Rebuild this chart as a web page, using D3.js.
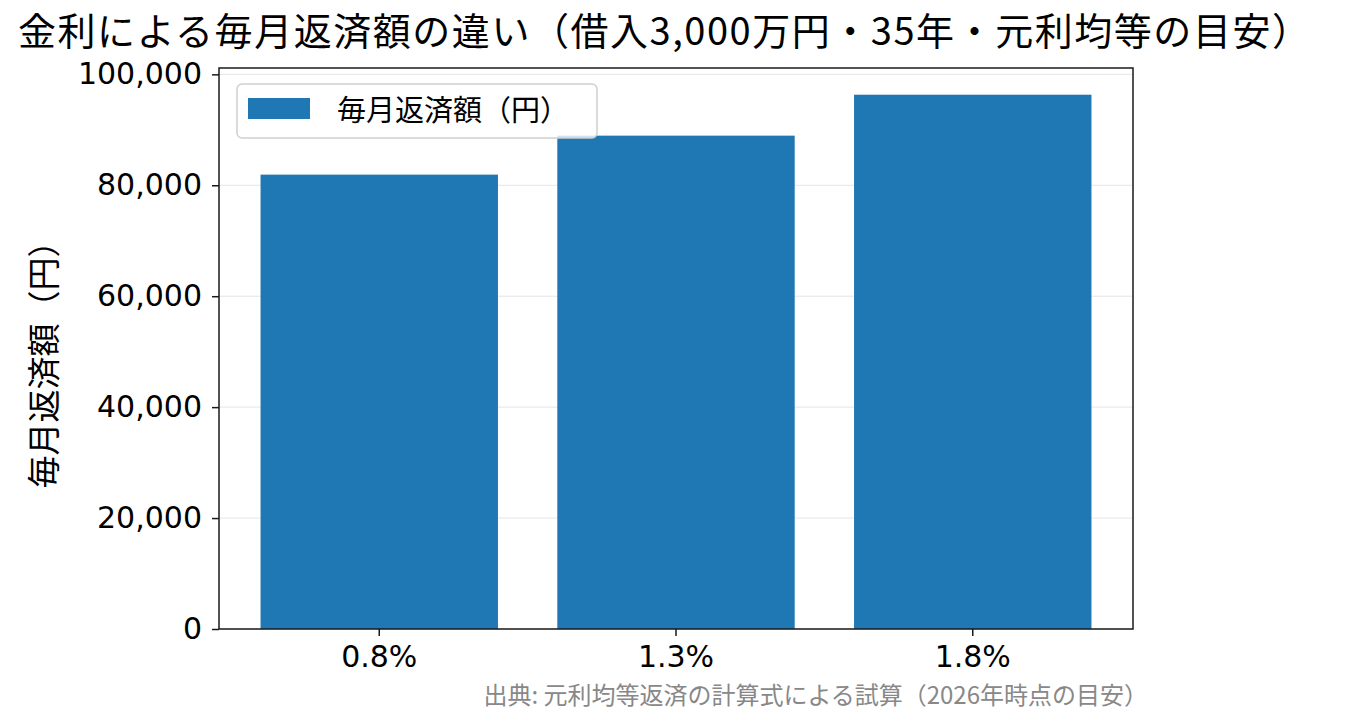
<!DOCTYPE html>
<html>
<head>
<meta charset="utf-8">
<script src="https://cdn.jsdelivr.net/npm/d3@7"></script>
<style>
    body { margin: 0; background: #fff; }
    svg { font-family: "Noto Sans CJK JP", "Noto Sans", sans-serif; }
    .grid line { stroke: #e5e5e5; stroke-width: 1; }
    .axis text { fill: #000; }
    .axis line { stroke: #1a1a1a; stroke-width: 1.5; }
</style>
</head>
<body>
<svg id="chart"></svg>
<script>
// data
const rates = ["0.8%", "1.3%", "1.8%"];
const monthlyPayments = [81918, 88946, 96327];
const yTicks = [0, 20000, 40000, 60000, 80000, 100000];
const seriesName = "毎月返済額（円）";
const titleText = "金利による毎月返済額の違い（借入3,000万円・35年・元利均等の目安）";
const yLabel = "毎月返済額（円）";
const sourceText = "出典: 元利均等返済の計算式による試算（2026年時点の目安）";

class BarChart {

    constructor(_config, _data) {
        this.config = {
            parentElement: _config.parentElement,
            containerWidth: _config.containerWidth || 1353,
            containerHeight: _config.containerHeight || 725,
            margin: _config.margin || {top: 68, right: 220, bottom: 96, left: 219},
            barColor: _config.barColor || "#1f77b4"
        }
        this.data = _data;
        this.initVis();
    }

    initVis() {
        let vis = this;

        vis.width = vis.config.containerWidth - vis.config.margin.left - vis.config.margin.right;
        vis.height = vis.config.containerHeight - vis.config.margin.top - vis.config.margin.bottom;

        // scales (matplotlib style: 0.8 wide bars, 5% margins)
        vis.xScale = d3.scaleBand()
            .range([0, vis.width])
            .paddingInner(0.2)
            .paddingOuter(0.14);

        vis.yScale = d3.scaleLinear()
            .range([vis.height, 0]);

        vis.xAxis = d3.axisBottom(vis.xScale)
            .tickSize(7)
            .tickPadding(10);

        vis.yAxis = d3.axisLeft(vis.yScale)
            .tickValues(yTicks)
            .tickFormat(d3.format(","))
            .tickSize(7)
            .tickPadding(10);

        vis.svg = d3.select(vis.config.parentElement)
            .attr('width', vis.config.containerWidth)
            .attr('height', vis.config.containerHeight);

        vis.chart = vis.svg.append('g')
            .attr('transform', `translate(${vis.config.margin.left},${vis.config.margin.top})`);

        vis.gridG = vis.chart.append('g').attr('class', 'grid');
        vis.barsG = vis.chart.append('g');

        vis.xAxisG = vis.chart.append('g')
            .attr('class', 'axis x-axis')
            .attr('transform', `translate(0,${vis.height})`);

        vis.yAxisG = vis.chart.append('g')
            .attr('class', 'axis y-axis');

        // frame
        vis.chart.append('rect')
            .attr('width', vis.width)
            .attr('height', vis.height)
            .attr('fill', 'none')
            .attr('stroke', '#1a1a1a')
            .attr('stroke-width', 1.5);

        // title
        vis.svg.append('text')
            .attr('x', 18)
            .attr('y', 45)
            .attr('font-size', 38)
            .attr('textLength', 1292)
            .attr('lengthAdjust', 'spacing')
            .text(titleText);

        // y axis title
        vis.svg.append('text')
            .attr('transform', `translate(42,${vis.config.margin.top + vis.height / 2 + 8}) rotate(-90)`)
            .attr('text-anchor', 'middle')
            .attr('dominant-baseline', 'central')
            .attr('font-size', 33)
            .text(yLabel);

        // source note
        vis.svg.append('text')
            .attr('x', 1148)
            .attr('y', 704)
            .attr('text-anchor', 'end')
            .attr('font-size', 24)
            .attr('fill', '#888')
            .text(sourceText);
    }

    updateVis() {
        let vis = this;
        vis.xValue = d => d.rate;
        vis.yValue = d => d.payment;

        vis.xScale.domain(vis.data.map(vis.xValue));
        vis.yScale.domain([0, d3.max(vis.data, vis.yValue) * 1.05]);

        vis.renderVis();
    }

    renderVis() {
        let vis = this;

        vis.gridG.selectAll('line')
            .data(yTicks)
            .join('line')
            .attr('x1', 0)
            .attr('x2', vis.width)
            .attr('y1', d => vis.yScale(d))
            .attr('y2', d => vis.yScale(d));

        vis.barsG.selectAll('.bar')
            .data(vis.data, vis.xValue)
            .join('rect')
            .attr('class', 'bar')
            .attr('x', d => vis.xScale(vis.xValue(d)))
            .attr('width', vis.xScale.bandwidth())
            .attr('y', d => vis.yScale(vis.yValue(d)))
            .attr('height', d => vis.height - vis.yScale(vis.yValue(d)))
            .attr('fill', vis.config.barColor);

        vis.xAxisG
            .call(vis.xAxis)
            .call(g => g.select('.domain').remove())
            .call(g => g.selectAll('text').attr('font-size', 30).attr('font-family', '"DejaVu Sans", sans-serif'));

        vis.yAxisG
            .call(vis.yAxis)
            .call(g => g.select('.domain').remove())
            .call(g => g.selectAll('text').attr('font-size', 30).attr('font-family', '"DejaVu Sans", sans-serif'));

        // legend
        const legend = vis.svg.append('g')
            .attr('transform', 'translate(237,84)');
        legend.append('rect')
            .attr('width', 360)
            .attr('height', 54)
            .attr('rx', 5)
            .attr('fill', '#fff')
            .attr('fill-opacity', 0.8)
            .attr('stroke', '#d0d0d0')
            .attr('stroke-width', 1.5);
        legend.append('rect')
            .attr('x', 11)
            .attr('y', 14)
            .attr('width', 62)
            .attr('height', 21)
            .attr('fill', vis.config.barColor);
        legend.append('text')
            .attr('x', 100)
            .attr('y', 37)
            .attr('font-size', 29)
            .text(seriesName);
    }
}

const chartData = rates.map((r, i) => ({rate: r, payment: monthlyPayments[i]}));
const barChart = new BarChart({parentElement: '#chart'}, chartData);
barChart.updateVis();
</script>
</body>
</html>
